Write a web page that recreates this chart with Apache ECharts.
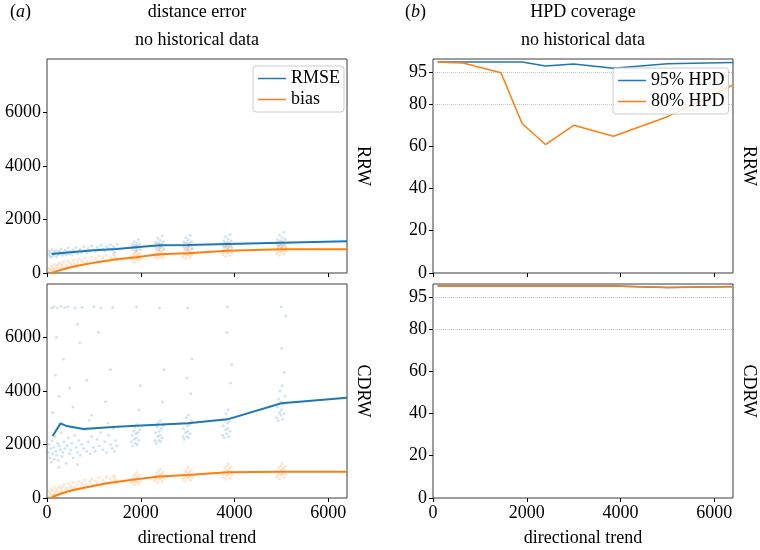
<!DOCTYPE html>
<html>
<head>
<meta charset="utf-8">
<script src="https://cdn.jsdelivr.net/npm/echarts@6/dist/echarts.min.js"></script>
<style>html,body{margin:0;padding:0;background:#fff;}#c{width:760px;height:550px;}</style>
</head>
<body>
<div id="c"></div>
<script>
// ---------- data ----------
const xTicks = [0, 2000, 4000, 6000];
const distTicks = [0, 2000, 4000, 6000];
const hpdTicks = [0, 20, 40, 60, 80, 95];
const hpdRefLines = [95, 80];

// RRW distance error lines
const rrwRmseLine = [[100,710],[500,780],[1000,850],[1490,900],[1900,960],[2400,1035],[3000,1050],[3850,1085],[5000,1130],[6400,1185]];
const rrwBiasLine = [[100,0],[250,90],[420,175],[650,270],[920,360],[1200,440],[1490,510],[1900,585],[2400,700],[3000,735],[3850,835],[5000,885],[6400,885]];
// CDRW distance error lines
const cdrwRmseLine = [[120,2320],[290,2790],[420,2690],[775,2580],[1490,2660],[1900,2700],[3000,2790],[3850,2940],[5000,3540],[6400,3750]];
const cdrwBiasLine = [[100,30],[300,170],[560,300],[900,420],[1275,550],[1900,700],[2400,800],[3000,860],[3850,960],[5000,980],[6400,980]];

// HPD coverage lines
const rrwHpd95 = [[100,99.9],[1900,99.9],[2400,98.0],[3000,98.9],[3850,96.9],[5000,99.0],[6400,99.7]];
const rrwHpd80 = [[100,99.9],[640,99.4],[1450,94.8],[1900,70.8],[2400,60.8],[3000,69.9],[3850,64.7],[5000,74.0],[6400,89.0]];
const cdrwHpd95 = [[100,100.3],[3850,100.3],[5000,99.7],[6400,100.1]];
const cdrwHpd80 = [[100,100.3],[3850,100.3],[5000,99.6],[6400,100.0]];

// scatter points (per-replicate estimates)
const rrwRmsePts = [[30,700],[45,820],[60,640],[75,760],[90,590],[105,880],[120,710],[140,650],[155,790],[170,730],[190,860],[205,610],[225,750],[240,690],[260,820],[280,760],[300,900],[320,660],[340,780],[360,720],[385,850],[410,690],[430,800],[455,940],[480,740],[500,820],[530,680],[560,870],[590,780],[620,950],[650,730],[680,840],[710,900],[740,770],[780,990],[810,860],[850,760],[880,920],[920,830],[950,1010],[990,880],[1030,790],[1070,960],[1110,870],[1150,1040],[1190,900],[1230,820],[1270,980],[1310,910],[1350,1060],[1390,860],[1420,990],[1460,920],[1490,1080],[1440,780],
[1800,950],[1815,1080],[1830,880],[1845,1010],[1860,1180],[1870,930],[1885,1050],[1895,820],[1905,990],[1915,1120],[1925,900],[1940,1030],[1955,1250],[1965,960],[1980,1090],[1995,870],
[2300,1000],[2315,1150],[2330,920],[2345,1080],[2360,1300],[2370,980],[2385,1120],[2395,860],[2405,1040],[2415,1220],[2425,950],[2440,1090],[2455,1380],[2465,1010],[2480,1170],[2495,900],
[2900,1010],[2915,1160],[2930,930],[2945,1090],[2960,1320],[2970,990],[2985,1130],[2995,870],[3005,1050],[3015,1240],[3025,960],[3040,1100],[3055,1400],[3065,1020],[3080,1180],[3095,910],
[3750,1040],[3765,1200],[3780,960],[3795,1120],[3810,1360],[3820,1010],[3835,1160],[3845,900],[3855,1080],[3865,1270],[3875,990],[3890,1130],[3905,1440],[3915,1050],[3930,1210],[3945,940],
[4900,1080],[4915,1250],[4930,990],[4945,1160],[4960,1420],[4970,1050],[4985,1200],[4995,930],[5005,1120],[5015,1320],[5025,1030],[5040,1170],[5055,1520],[5065,1090],[5080,1260],[5095,970]];
const rrwBiasPts = [[30,40],[45,180],[60,10],[75,120],[90,260],[105,60],[120,200],[140,90],[155,320],[170,150],[190,240],[205,40],[225,300],[240,180],[260,380],[280,120],[300,260],[320,340],[340,200],[360,420],[385,150],[410,310],[430,240],[455,450],[480,200],[500,360],[530,280],[560,480],[590,330],[620,230],[650,420],[680,520],[710,300],[740,460],[780,380],[810,560],[850,420],[880,320],[920,500],[950,600],[990,400],[1030,540],[1070,460],[1110,640],[1150,380],[1190,560],[1230,480],[1270,660],[1310,430],[1350,600],[1390,520],[1420,700],[1460,560],[1490,460],[1440,640],
[1800,480],[1815,620],[1830,540],[1845,700],[1860,420],[1870,590],[1885,760],[1895,520],[1905,650],[1915,830],[1925,560],[1940,690],[1955,470],[1965,610],[1980,740],[1995,550],
[2300,580],[2315,730],[2330,640],[2345,820],[2360,520],[2370,690],[2385,880],[2395,620],[2405,760],[2415,960],[2425,660],[2440,800],[2455,560],[2465,710],[2480,860],[2495,640],
[2900,600],[2915,760],[2930,670],[2945,860],[2960,540],[2970,720],[2985,920],[2995,650],[3005,800],[3015,1000],[3025,690],[3040,840],[3055,580],[3065,750],[3080,900],[3095,670],
[3750,680],[3765,860],[3780,760],[3795,960],[3810,620],[3820,820],[3835,1020],[3845,740],[3855,900],[3865,1100],[3875,780],[3890,940],[3905,660],[3915,850],[3930,1000],[3945,760],
[4900,720],[4915,900],[4930,800],[4945,1010],[4960,660],[4970,870],[4985,1070],[4995,780],[5005,950],[5015,1160],[5025,820],[5040,990],[5055,700],[5065,900],[5080,1050],[5095,800]];
const cdrwRmsePts = [[30,1700],[45,2000],[60,1500],[75,1850],[90,1350],[105,2150],[120,1650],[140,1900],[155,1450],[170,2300],[190,1750],[205,1600],[225,2050],[240,1400],[260,1950],[280,1800],[300,2450],[320,1550],[340,1700],[360,2100],[385,1850],[410,1300],[430,1950],[455,2250],[480,1650],[500,1800],[530,2050],[560,1500],[590,2350],[620,1900],[650,1700],[680,2150],[710,1600],[740,2000],[780,1850],[810,2550],[850,1750],[880,2100],[920,1650],[950,2300],[990,1900],[1030,1750],[1070,2200],[1110,1950],[1150,2450],[1190,1800],[1230,2100],[1270,1700],[1310,2350],[1350,2000],[1390,1850],[1420,2600],[1460,2150],[1490,1950],[1440,1750],[250,1150],[650,1250],
[100,7100],[150,7150],[220,7100],[300,7180],[380,7120],[450,7150],[600,7100],[750,7130],[1000,7150],[1150,7100],[1400,7120],[120,3200],[180,4600],[260,3800],[350,5200],[480,4100],[550,3400],[700,5800],[850,4400],[950,3100],[1100,6200],[1250,3600],[1350,4800],[200,6000],[650,6500],[900,2900],[1300,2800],
[1800,2100],[1815,2350],[1830,1950],[1845,2500],[1860,2200],[1870,2650],[1885,2050],[1895,2400],[1905,2250],[1915,2750],[1925,2000],[1940,2450],[1955,2150],[1965,3300],[1980,2550],[1995,4200],[1910,7150],
[2300,2150],[2315,2450],[2330,2050],[2345,2650],[2360,2300],[2370,2800],[2385,2150],[2395,2500],[2405,2350],[2415,2900],[2425,2100],[2440,2600],[2455,2250],[2465,3600],[2480,2700],[2495,4800],[2400,7100],
[2900,2300],[2915,2600],[2930,2200],[2945,2800],[2960,2450],[2970,3000],[2985,2300],[2995,2700],[3005,2500],[3015,3100],[3025,2250],[3040,2750],[3055,2400],[3065,3900],[3080,2900],[3095,5200],[3000,7100],[2990,4500],
[3750,2350],[3765,2700],[3780,2250],[3795,2900],[3810,2550],[3820,3150],[3835,2400],[3845,2800],[3855,2600],[3865,3300],[3875,2300],[3890,2850],[3905,2500],[3915,4300],[3930,3000],[3945,5000],[3850,7150],[3840,6200],
[4900,3000],[4915,3400],[4930,2900],[4945,3700],[4960,3200],[4970,4000],[4985,3100],[4995,3600],[5005,3300],[5015,4200],[5025,2950],[5040,3500],[5055,3150],[5065,4700],[5080,3800],[5095,6800],[5000,7150],[5010,5600]];
const cdrwBiasPts = [[30,60],[45,220],[60,10],[75,150],[90,320],[105,80],[120,250],[140,120],[155,380],[170,190],[190,290],[205,50],[225,360],[240,220],[260,450],[280,150],[300,320],[320,400],[340,250],[360,500],[385,190],[410,380],[430,300],[455,540],[480,250],[500,430],[530,340],[560,580],[590,400],[620,290],[650,500],[680,620],[710,370],[740,550],[780,460],[810,680],[850,500],[880,400],[920,600],[950,720],[990,480],[1030,650],[1070,560],[1110,760],[1150,460],[1190,670],[1230,580],[1270,790],[1310,520],[1350,720],[1390,620],[1420,840],[1460,680],[1490,560],[1440,770],
[1800,560],[1815,720],[1830,620],[1845,820],[1860,500],[1870,680],[1885,880],[1895,600],[1905,760],[1915,960],[1925,640],[1940,800],[1955,540],[1965,710],[1980,860],[1995,630],
[2300,650],[2315,830],[2330,720],[2345,930],[2360,590],[2370,790],[2385,1000],[2395,700],[2405,870],[2415,1080],[2425,740],[2440,910],[2455,630],[2465,810],[2480,970],[2495,720],
[2900,690],[2915,880],[2930,770],[2945,1000],[2960,620],[2970,840],[2985,1070],[2995,750],[3005,930],[3015,1150],[3025,790],[3040,980],[3055,660],[3065,870],[3080,1040],[3095,770],
[3750,770],[3765,980],[3780,860],[3795,1110],[3810,700],[3820,940],[3835,1190],[3845,840],[3855,1040],[3865,1280],[3875,890],[3890,1090],[3905,740],[3915,970],[3930,1160],[3945,860],
[4900,790],[4915,1000],[4930,880],[4945,1130],[4960,720],[4970,960],[4985,1210],[4995,860],[5005,1060],[5015,1300],[5025,910],[5040,1110],[5055,760],[5065,990],[5080,1180],[5095,880]];

// ---------- styles ----------
const BLUE = '#1f77b4', ORANGE = '#ff7f0e';
const FONT = 'Liberation Serif, Times New Roman, serif';
const axisTxt = {fontFamily: FONT, fontSize: 18, color: '#000'};

const grids = [
  {left: 47, top: 59, width: 300, height: 214},
  {left: 47, top: 284, width: 300, height: 214},
  {left: 433, top: 59, width: 300, height: 214},
  {left: 433, top: 284, width: 300, height: 214}
].map(g => Object.assign(g, {show: true, borderColor: '#3c3c3c', borderWidth: 1, backgroundColor: 'transparent'}));

const plainFmt = v => String(v);

function xAx(i, labels) {
  return {
    type: 'value', gridIndex: i, min: 0, max: 6400,
    axisLine: {show: false},
    axisTick: {show: true, length: 4, customValues: xTicks, lineStyle: {color: '#000'}},
    axisLabel: labels ? Object.assign({show: true, margin: 6, customValues: xTicks, formatter: plainFmt}, axisTxt) : {show: false},
    splitLine: {show: false},
    name: labels ? 'directional trend' : '',
    nameLocation: 'middle', nameGap: 31,
    nameTextStyle: axisTxt
  };
}
function yAx(i, max, ticks) {
  return {
    type: 'value', gridIndex: i, min: 0, max: max,
    axisLine: {show: false},
    axisTick: {show: true, length: 4, customValues: ticks, lineStyle: {color: '#000'}},
    axisLabel: Object.assign({show: true, margin: 6, customValues: ticks, formatter: plainFmt}, axisTxt),
    splitLine: {show: false}
  };
}

function lineS(name, data, i, color, w) {
  return {name: name, type: 'line', data: data, xAxisIndex: i, yAxisIndex: i,
    showSymbol: false, symbol: 'none', lineStyle: {color: color, width: w}, itemStyle: {color: color},
    z: 5, silent: true, animation: false};
}
function scatS(data, i, color) {
  return {type: 'scatter', data: data, xAxisIndex: i, yAxisIndex: i, symbolSize: 3,
    itemStyle: {color: color, opacity: 0.2}, z: 2, silent: true, animation: false};
}
const refLine = {silent: true, symbol: 'none', label: {show: false},
  lineStyle: {type: 'dotted', color: '#c4c4c4', width: 1},
  data: hpdRefLines.map(v => ({yAxis: v}))};

const series = [
  scatS(rrwRmsePts, 0, BLUE), scatS(rrwBiasPts, 0, ORANGE),
  lineS('RMSE', rrwRmseLine, 0, BLUE, 2), lineS('bias', rrwBiasLine, 0, ORANGE, 2),
  scatS(cdrwRmsePts, 1, BLUE), scatS(cdrwBiasPts, 1, ORANGE),
  lineS('RMSE', cdrwRmseLine, 1, BLUE, 2), lineS('bias', cdrwBiasLine, 1, ORANGE, 2),
  Object.assign(lineS('95% HPD', rrwHpd95, 2, BLUE, 1.5), {markLine: refLine}),
  lineS('80% HPD', rrwHpd80, 2, ORANGE, 1.5),
  Object.assign(lineS('95% HPD', cdrwHpd95, 3, BLUE, 1.5), {markLine: refLine}),
  lineS('80% HPD', cdrwHpd80, 3, ORANGE, 1.5)
];

const legendCommon = {orient: 'vertical', icon: 'rect', itemWidth: 28, itemHeight: 1.5, itemGap: 2,
  padding: [3, 4, 3, 5], backgroundColor: 'rgba(255,255,255,0.8)', borderColor: '#cccccc', borderWidth: 1,
  borderRadius: 3, z: 10, selectedMode: false,
  textStyle: {fontFamily: FONT, fontSize: 18, color: '#000', lineHeight: 19}};

function txt(t, x, y, extra) {
  return Object.assign({type: 'text', x: x, y: y, silent: true,
    style: {text: t, font: '18px ' + FONT, fill: '#000', align: 'center', verticalAlign: 'middle'}}, extra || {});
}
const labelRich = {it: {fontFamily: FONT, fontSize: 18, fontStyle: 'italic', fill: '#000'}};

const option = {
  backgroundColor: '#fff',
  animation: false,
  grid: grids,
  xAxis: [xAx(0, false), xAx(1, true), xAx(2, false), xAx(3, true)],
  yAxis: [yAx(0, 8000, distTicks), yAx(1, 8000, distTicks), yAx(2, 101.3, hpdTicks), yAx(3, 101.3, hpdTicks)],
  legend: [
    Object.assign({data: ['RMSE', 'bias'], left: 253, top: 66}, legendCommon),
    Object.assign({data: ['95% HPD', '80% HPD'], left: 613, top: 68}, legendCommon)
  ],
  series: series,
  graphic: [
    {type: 'text', x: 10, y: 12, silent: true, style: {text: '({it|a})', rich: labelRich, font: '18px ' + FONT, fill: '#000', verticalAlign: 'middle'}},
    {type: 'text', x: 405, y: 12, silent: true, style: {text: '({it|b})', rich: labelRich, font: '18px ' + FONT, fill: '#000', verticalAlign: 'middle'}},
    txt('distance error', 197, 12),
    txt('no historical data', 197, 40),
    txt('HPD coverage', 583, 12),
    txt('no historical data', 583, 40),
    txt('RRW', 363, 166, {rotation: -Math.PI / 2}),
    txt('CDRW', 363, 391, {rotation: -Math.PI / 2}),
    txt('RRW', 749, 166, {rotation: -Math.PI / 2}),
    txt('CDRW', 749, 391, {rotation: -Math.PI / 2})
  ]
};
const chart = echarts.init(document.getElementById('c'), null, {renderer: 'canvas'});
chart.setOption(option);
</script>
</body>
</html>
